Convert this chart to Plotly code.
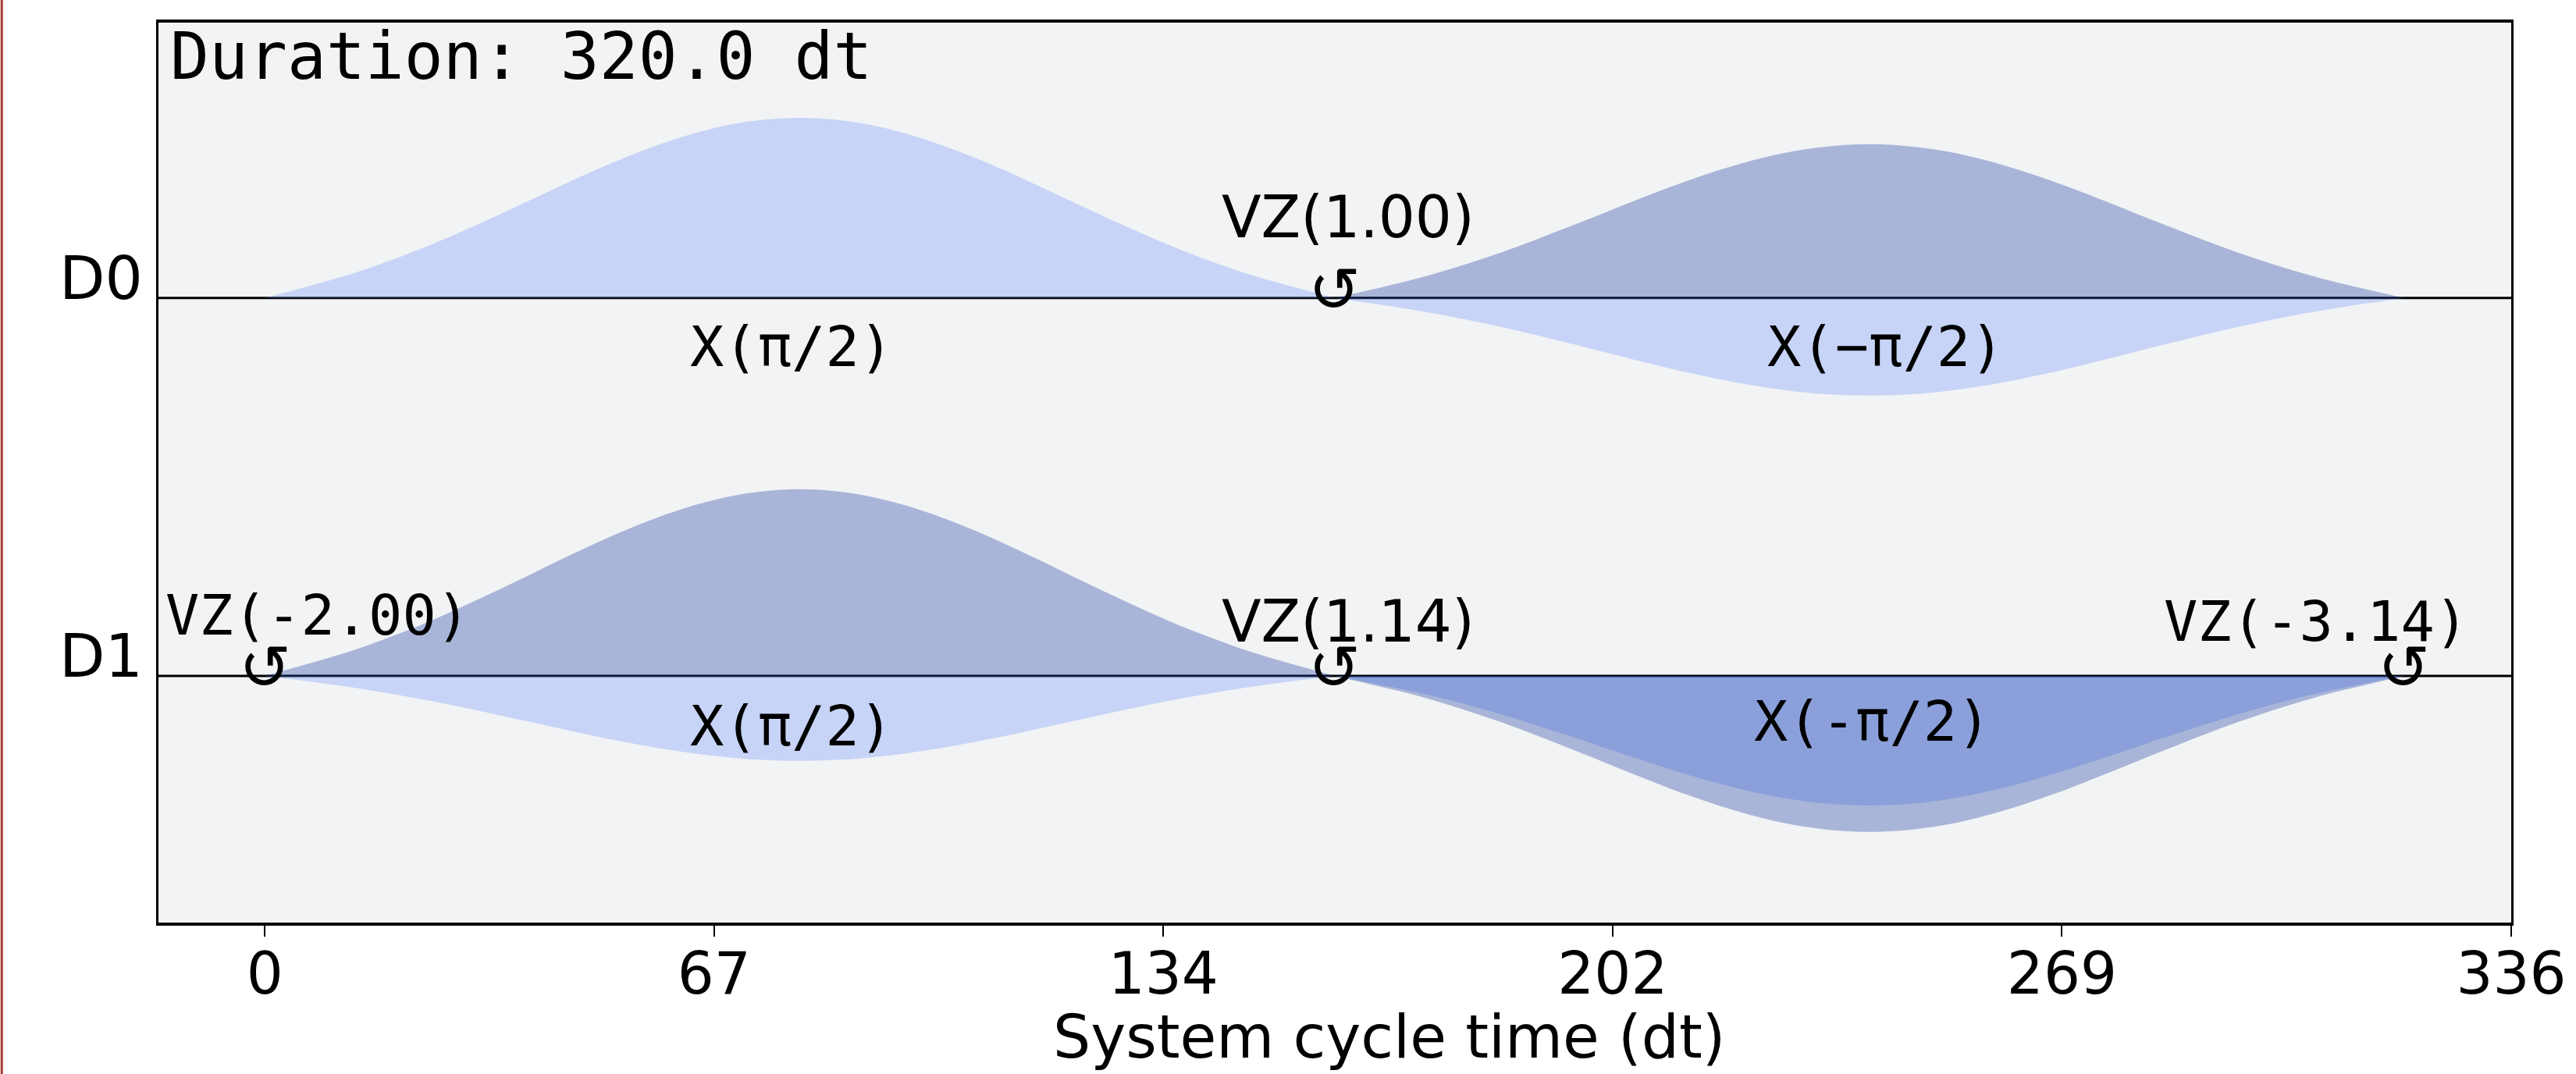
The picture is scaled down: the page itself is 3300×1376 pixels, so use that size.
import plotly.graph_objects as go

# ---------------- data ----------------
channels = ["D0", "D1"]
channel_level = [0.0, -1.0]

# pulse envelope (normalised) sampled every 5 dt over a 160 dt pulse
envelope_dt = [0, 5, 10, 15, 20, 25, 30, 35, 40, 45, 50, 55, 60, 65, 70, 75, 80,
               85, 90, 95, 100, 105, 110, 115, 120, 125, 130, 135, 140, 145, 150, 155, 160]
envelope_shape = [0.0, 0.050, 0.101, 0.159, 0.225, 0.298, 0.378, 0.462, 0.548, 0.635,
                  0.719, 0.796, 0.865, 0.922, 0.965, 0.991, 1.0,
                  0.991, 0.965, 0.922, 0.865, 0.796, 0.719, 0.635, 0.548, 0.462, 0.378,
                  0.298, 0.225, 0.159, 0.101, 0.050, 0.0]

pulse_channel = ["D0", "D0", "D1", "D1"]
pulse_start = [0, 160, 0, 160]
pulse_real_peak = [0.477, -0.258, -0.225, -0.343]
pulse_imag_peak = [0.0, 0.407, 0.494, -0.413]
pulse_label = ["X(π/2)", "X(−π/2)", "X(π/2)", "X(-π/2)"]

vz_channel = ["D0", "D1", "D1", "D1"]
vz_time = [160, 0, 160, 320]
vz_label = ["VZ(1.00)", "VZ(-2.00)", "VZ(1.14)", "VZ(-3.14)"]

duration_dt = 320.0
tick_values = [0, 67.2, 134.4, 201.6, 268.8, 336]
tick_labels = ["0", "67", "134", "202", "269", "336"]

title_text = "Compiled pulse schedule"

# ---------------- styles ----------------
W, H = 3300, 1376
ML, MR, MT, MB = 203, 72, 29, 194
SANS = "DejaVu Sans"
MONO = "DejaVu Sans Mono"
BG = "#f2f3f4"
REAL_FILL = "rgba(100,143,255,0.3)"
IMAG_FILL = "rgba(0,41,153,0.3)"

pulse_label_font = [MONO, MONO, MONO, MONO]
pulse_label_xshift = [-10, 21, -10, 4]
pulse_label_yshift = [-62, -62, -64, -58]
vz_label_font = [SANS, MONO, SANS, MONO]
vz_label_xshift = [17, 68, 17, -113]
vz_label_yshift = [104, 78, 70, 70]

level_of = dict(zip(channels, channel_level))

fig = go.Figure()

for ch, start, rp, ip in zip(pulse_channel, pulse_start, pulse_real_peak, pulse_imag_peak):
    base = level_of[ch]
    xs = [start + t for t in envelope_dt]
    for peak, color in ((rp, REAL_FILL), (ip, IMAG_FILL)):
        if peak == 0:
            continue
        fig.add_trace(go.Scatter(x=xs, y=[base] * len(xs), mode="lines",
                                 line=dict(width=0, color="rgba(0,0,0,0)"),
                                 hoverinfo="skip", showlegend=False))
        fig.add_trace(go.Scatter(x=xs, y=[base + peak * e for e in envelope_shape],
                                 mode="lines",
                                 line=dict(width=0, color=color, shape="spline", smoothing=1.0),
                                 fill="tonexty", fillcolor=color,
                                 hoverinfo="skip", showlegend=False))

# channel baselines
for lvl in channel_level:
    fig.add_hline(y=lvl, line=dict(color="black", width=3), layer="below")

ann = []
# channel names
for ch, lvl in zip(channels, channel_level):
    ann.append(dict(text=ch, xref="paper", x=0, xanchor="right", xshift=-18,
                    yref="y", y=lvl, yanchor="middle", yshift=25,
                    showarrow=False, font=dict(family=SANS, size=76, color="black")))
# pulse labels
for i, (ch, start, lab) in enumerate(zip(pulse_channel, pulse_start, pulse_label)):
    ann.append(dict(text=lab, xref="x", x=start + 80, xanchor="center",
                    xshift=pulse_label_xshift[i], yref="y", y=level_of[ch],
                    yanchor="middle", yshift=pulse_label_yshift[i], showarrow=False,
                    font=dict(family=pulse_label_font[i], size=72, color="black")))
# frame changes
for i, (ch, t, lab) in enumerate(zip(vz_channel, vz_time, vz_label)):
    ann.append(dict(text="↺", xref="x", x=t, xanchor="center", yref="y", y=level_of[ch],
                    yanchor="middle", yshift=10, showarrow=False,
                    font=dict(family=SANS, size=80, color="black")))
    ann.append(dict(text=lab, xref="x", x=t, xanchor="center", xshift=vz_label_xshift[i],
                    yref="y", y=level_of[ch], yanchor="middle", yshift=vz_label_yshift[i],
                    showarrow=False,
                    font=dict(family=vz_label_font[i], size=74 if vz_label_font[i] == SANS else 72,
                              color="black")))
# duration text
ann.append(dict(text=f"Duration: {duration_dt:.1f} dt", xref="paper", x=0, xanchor="left",
                xshift=13, yref="paper", y=1, yanchor="middle", yshift=-43,
                showarrow=False, font=dict(family=MONO, size=83, color="black")))
# x axis title
ann.append(dict(text="System cycle time (dt)", xref="paper", x=(1785 - ML) / (W - ML - MR),
                xanchor="center", yref="paper", y=0, yanchor="middle", yshift=-146,
                showarrow=False, font=dict(family=SANS, size=76, color="black")))
# title (mostly cut off above the page)
ann.append(dict(text="<b>" + title_text + "</b>", xref="paper", x=0.5, xanchor="center",
                xshift=-150, yref="paper", y=1, yanchor="bottom", yshift=26, showarrow=False,
                font=dict(family=SANS, size=95, color="black")))

pw = W - ML - MR
shapes = [dict(type="rect", xref="paper", yref="paper", x0=-ML / pw, x1=(-ML + 3) / pw,
               y0=-0.3, y1=1.2, fillcolor="#a83a38", line=dict(width=0), layer="above")]

fig.update_layout(
    width=W, height=H,
    margin=dict(l=ML, r=MR, t=MT, b=MB, pad=0),
    paper_bgcolor="white", plot_bgcolor=BG,
    showlegend=False,
    annotations=ann,
    shapes=list(fig.layout.shapes) + shapes,
    xaxis=dict(range=[-15.9, 336], tickvals=tick_values, ticktext=tick_labels,
               ticks="outside", ticklen=14, tickwidth=2, tickcolor="black",
               ticklabelstandoff=-16,
               tickfont=dict(family=SANS, size=74, color="black"),
               showline=True, linewidth=4, linecolor="black", mirror=True,
               showgrid=False, zeroline=False),
    yaxis=dict(range=[-1.653, 0.729], showticklabels=False, ticks="",
               showline=True, linewidth=3, linecolor="black", mirror=True,
               showgrid=False, zeroline=False),
)

fig.write_html("out.html", config={"displayModeBar": False},
               post_script="document.body.style.margin='0';document.body.style.overflow='hidden';")
